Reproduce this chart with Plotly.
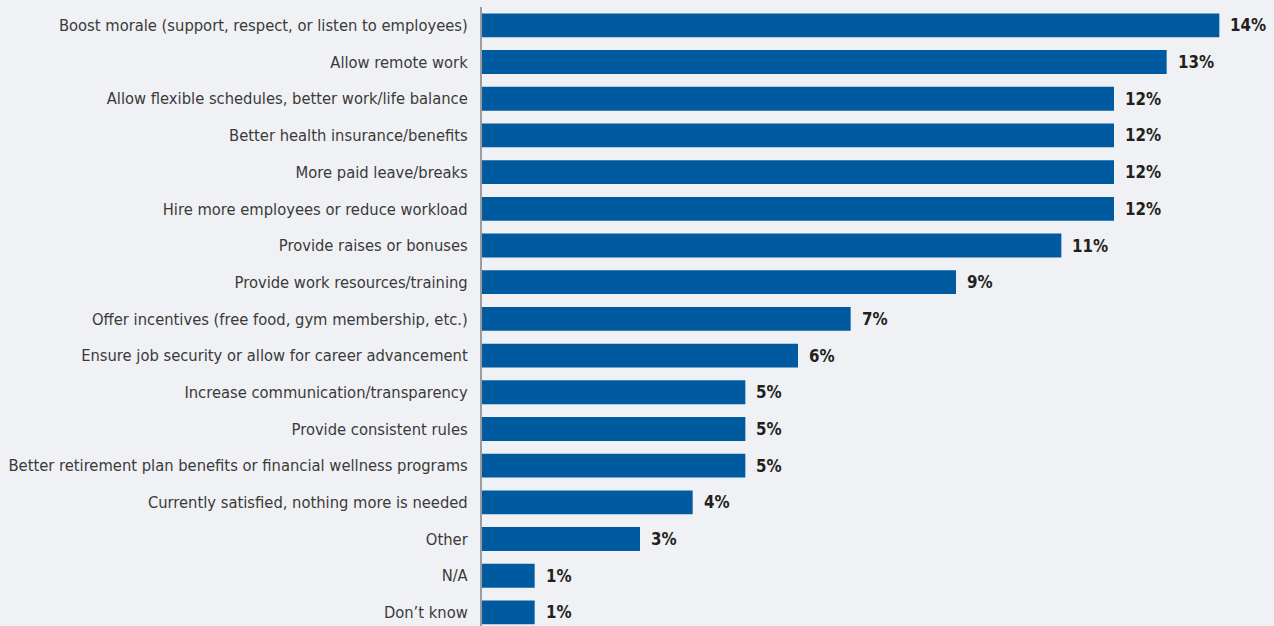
import plotly.graph_objects as go

categories = [
    "Boost morale (support, respect, or listen to employees)",
    "Allow remote work",
    "Allow flexible schedules, better work/life balance",
    "Better health insurance/benefits",
    "More paid leave/breaks",
    "Hire more employees or reduce workload",
    "Provide raises or bonuses",
    "Provide work resources/training",
    "Offer incentives (free food, gym membership, etc.)",
    "Ensure job security or allow for career advancement",
    "Increase communication/transparency",
    "Provide consistent rules",
    "Better retirement plan benefits or financial wellness programs",
    "Currently satisfied, nothing more is needed",
    "Other",
    "N/A",
    "Don\u2019t know",
]
values = [14, 13, 12, 12, 12, 12, 11, 9, 7, 6, 5, 5, 5, 4, 3, 1, 1]

BG = "#f0f1f4"
BAR = "#005a9f"
FONT = "DejaVu Sans Condensed, Noto Sans, sans-serif"

fig = go.Figure(
    go.Bar(
        x=values,
        y=categories,
        orientation="h",
        marker=dict(color=BAR, line=dict(width=0)),
        width=0.65,
        hoverinfo="skip",
    )
)

# value labels just past the end of each bar
for cat, v in zip(categories, values):
    fig.add_annotation(
        x=v, y=cat, text=f"<b>{v}%</b>", showarrow=False,
        xanchor="left", yanchor="middle", xshift=9,
        font=dict(family=FONT, size=16.8, color="#231f20"),
    )

fig.update_layout(
    width=1274, height=626,
    margin=dict(l=482, r=2, t=7, b=0, autoexpand=False),
    paper_bgcolor=BG, plot_bgcolor=BG,
    showlegend=False,
    font=dict(family=FONT, size=16.4, color="#3a3a3a"),
    xaxis=dict(range=[0, 15], visible=False, fixedrange=True),
    yaxis=dict(
        categoryorder="array", categoryarray=categories,
        range=[16.37, -0.5],
        showline=True, linecolor="#9b9ca0", linewidth=2,
        showgrid=False, zeroline=False, ticks="",
        ticklabelstandoff=9, automargin=False,
        tickfont=dict(family=FONT, size=16.4, color="#3a3a3a"),
        fixedrange=True,
    ),
)

fig.write_html("out.html", config={"displayModeBar": False})
